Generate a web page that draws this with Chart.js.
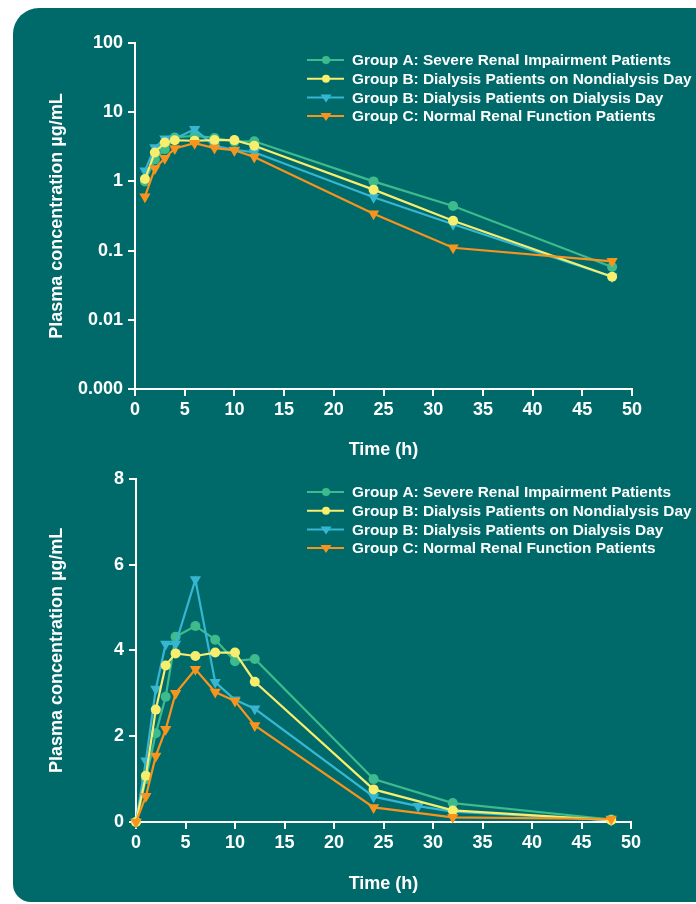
<!DOCTYPE html>
<html>
<head>
<meta charset="utf-8">
<script src="https://cdn.jsdelivr.net/npm/chart.js@4.4.0/dist/chart.umd.min.js"></script>
<style>
  html, body { margin: 0; padding: 0; background: #fff; }
  body { width: 696px; height: 904px; position: relative; overflow: hidden; }
  .panel {
    position: absolute; left: 13px; top: 8px; width: 720px; height: 894px;
    background: #006a6b; border-radius: 26px 0 0 18px;
  }
  #graficaLog { position: absolute; left: 0; top: 0; }
  #graficaLineal { position: absolute; left: 0; top: 463px; }
</style>
</head>
<body>
<div class="panel"></div>
<canvas id="graficaLog" width="696" height="465"></canvas>
<canvas id="graficaLineal" width="696" height="441"></canvas>

<script>
// ================= DATOS =================
const tiempos   = [0, 1, 2, 3, 4, 6, 8, 10, 12, 24, 32, 48];
const grupoA    = [0, 1.0, 2.07, 2.92, 4.32, 4.57, 4.25, 3.75, 3.8, 1.0, 0.44, 0.058];
const grupoBNo  = [0, 1.08, 2.62, 3.65, 3.93, 3.87, 3.95, 3.95, 3.27, 0.76, 0.27, 0.042];
const grupoBSi  = [0, 1.43, 3.1, 4.15, 4.15, 5.65, 3.26, 2.85, 2.64, 0.59, 0.24, 0.042];
const grupoC    = [0, 0.6, 1.54, 2.16, 3.0, 3.56, 3.03, 2.82, 2.25, 0.34, 0.11, 0.07];

// muestra extra del dia de dialisis (solo aparece en la grafica lineal)
const extraTiempo = 28.5;
const extraValor  = 0.37;

const nombres = [
    'Group A: Severe Renal Impairment Patients',
    'Group B: Dialysis Patients on Nondialysis Day',
    'Group B: Dialysis Patients on Dialysis Day',
    'Group C: Normal Renal Function Patients'
];
const colores = ['#3dbb8c', '#f6ee6c', '#36b6d0', '#f7941d'];
const estilos = ['circle', 'circle', 'triangle', 'triangle'];

const ticksLog      = [0.001, 0.01, 0.1, 1, 10, 100];
const etiquetasLog  = ['0.000', '0.01', '0.1', '1', '10', '100'];
const ticksLineal   = [0, 2, 4, 6, 8];

Chart.defaults.font.family = "'Liberation Sans', Arial, sans-serif";
Chart.defaults.font.weight = 'bold';
Chart.defaults.color = '#ffffff';

// ================= HELPERS =================
function puntos(valores, log) {
    return tiempos
        .map((t, i) => ({ x: t, y: valores[i] }))
        .filter(p => !log || p.y > 0);
}

function dataset(i, data) {
    const tri = estilos[i] === 'triangle';
    return {
        label: nombres[i],
        data,
        borderColor: colores[i],
        backgroundColor: colores[i],
        borderWidth: 2.2,
        pointStyle: estilos[i],
        pointRotation: tri ? 180 : 0,
        pointRadius: tri ? 6.5 : 5,
        pointBorderWidth: 0,
        tension: 0,
        clip: false,
        order: [3, 1, 2, 0][i]
    };
}

// leyenda dibujada a mano (linea + marcador)
function leyenda(top) {
    return {
        id: 'leyenda',
        afterDraw(chart) {
            const ctx = chart.ctx;
            ctx.save();
            nombres.forEach((n, i) => {
                const y = top + i * 18.7;
                ctx.strokeStyle = colores[i];
                ctx.fillStyle = colores[i];
                ctx.lineWidth = 2;
                ctx.beginPath();
                ctx.moveTo(307, y);
                ctx.lineTo(344, y);
                ctx.stroke();
                ctx.beginPath();
                if (estilos[i] === 'circle') {
                    ctx.arc(326, y, 4, 0, Math.PI * 2);
                } else {
                    ctx.moveTo(320.5, y - 3);
                    ctx.lineTo(331.5, y - 3);
                    ctx.lineTo(326, y + 5);
                    ctx.closePath();
                }
                ctx.fill();
                ctx.fillStyle = '#ffffff';
                ctx.font = "bold 15.4px 'Liberation Sans', Arial, sans-serif";
                ctx.textBaseline = 'middle';
                ctx.fillText(n, 352, y + 1);
            });
            ctx.restore();
        }
    };
}

function ejeX(alto) {
    return {
        type: 'linear',
        min: 0, max: 50,
        ticks: { stepSize: 5, padding: 3, font: { size: 18 } },
        grid: { drawOnChartArea: false, color: '#fff', tickLength: 7, lineWidth: 2 },
        border: { color: '#fff', width: 2 },
        title: { display: true, text: 'Time (h)', font: { size: 18 } },
        afterFit: s => { s.height = alto; }
    };
}

// ================= GRAFICA LOG =================
function graficaLog() {
    const sets = [grupoA, grupoBNo, grupoBSi, grupoC].map((v, i) => dataset(i, puntos(v, true)));

    new Chart(document.getElementById('graficaLog'), {
        type: 'line',
        data: { datasets: sets },
        options: {
            responsive: false,
            animation: false,
            layout: { padding: { left: 42, top: 43, right: 64, bottom: 0 } },
            plugins: { legend: { display: false }, tooltip: { enabled: false } },
            scales: {
                x: ejeX(76),
                y: {
                    type: 'logarithmic',
                    min: 0.001, max: 100,
                    afterBuildTicks: s => { s.ticks = ticksLog.map(v => ({ value: v })); },
                    ticks: {
                        padding: 5,
                        font: { size: 18 },
                        callback: v => etiquetasLog[ticksLog.indexOf(v)]
                    },
                    grid: { drawOnChartArea: false, color: '#fff', tickLength: 7, lineWidth: 2 },
                    border: { color: '#fff', width: 2 },
                    title: { display: true, text: 'Plasma concentration µg/mL', font: { size: 18 } },
                    afterFit: s => { s.width = 93; }
                }
            }
        },
        plugins: [leyenda(60)]
    });
}

// ================= GRAFICA LINEAL =================
function graficaLineal() {
    const dial = puntos(grupoBSi, false);
    dial.splice(tiempos.indexOf(32), 0, { x: extraTiempo, y: extraValor });

    const sets = [
        dataset(0, puntos(grupoA, false)),
        dataset(1, puntos(grupoBNo, false)),
        dataset(2, dial),
        dataset(3, puntos(grupoC, false))
    ];

    new Chart(document.getElementById('graficaLineal'), {
        type: 'line',
        data: { datasets: sets },
        options: {
            responsive: false,
            animation: false,
            layout: { padding: { left: 42, top: 11, right: 65, bottom: 5 } },
            plugins: { legend: { display: false }, tooltip: { enabled: false } },
            scales: {
                x: ejeX(77),
                y: {
                    type: 'linear',
                    min: 0, max: 8,
                    afterBuildTicks: s => { s.ticks = ticksLineal.map(v => ({ value: v })); },
                    ticks: { padding: 5, font: { size: 18 } },
                    grid: { drawOnChartArea: false, color: '#fff', tickLength: 7, lineWidth: 2 },
                    border: { color: '#fff', width: 2 },
                    title: { display: true, text: 'Plasma concentration µg/mL', font: { size: 18 } },
                    afterFit: s => { s.width = 94; }
                }
            }
        },
        plugins: [leyenda(29)]
    });
}

// ================= INICIO =================
document.addEventListener('DOMContentLoaded', () => {
    graficaLog();
    graficaLineal();
});
</script>
</body>
</html>
